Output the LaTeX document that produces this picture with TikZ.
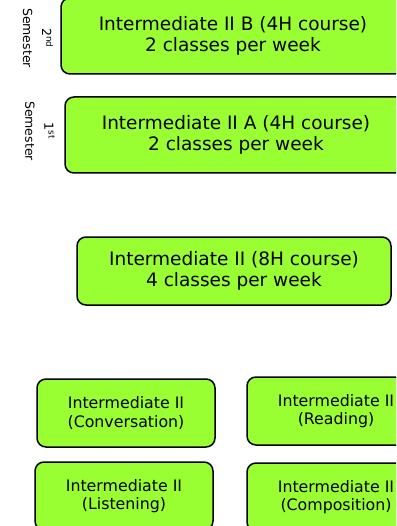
\documentclass[tikz,border=0pt]{standalone}
\usepackage{fontspec}
\setmainfont{DejaVu Sans}
\definecolor{coursegreen}{RGB}{153,255,51}
\tikzset{
	coursebox/.style={shape=rectangle, rounded corners=9pt, draw, line width=1.5pt, fill=coursegreen, align=center, inner sep=0pt},
	bigtext/.style={font=\fontsize{18.5}{21}\selectfont},
	smalltext/.style={font=\fontsize{15.8}{18.5}\selectfont},
	semlabel/.style={rotate=-90, align=center, font=\fontsize{12.5}{19}\selectfont}
}
\begin{document}
\begin{tikzpicture}[x=1pt, y=-1pt]
			\useasboundingbox (0,0) rectangle (396,526);
			\clip (0,0) rectangle (396,526);
			
			% semesters
			\node (s2)[semlabel] at (38,38){2\textsuperscript{nd} \\ Semester};
			\node (s1)[semlabel] at (40,131){1\textsuperscript{st} \\ Semester};
			
			\node (b4)[coursebox, bigtext, minimum width=344pt, minimum height=76pt] 
			at (233,36){
				Intermediate II B (4H course) \\ 2 classes per week
			}; 
			
			\node (a4)[coursebox, bigtext, minimum width=342pt, minimum height=76pt] 
			at (236,135){
				Intermediate II A (4H course) \\ 2 classes per week
			}; 
			
			\node (c8)[coursebox, bigtext, minimum width=314pt, minimum height=68pt] 
			at (234,271){
				Intermediate II (8H course) \\ 4 classes per week
			}; 
			
			% skill classes
			\node (conv)[coursebox, smalltext, minimum width=178pt, minimum height=68pt] 
			at (126,413){
				Intermediate II \\ (Conversation)
			}; 
			
			\node (read)[coursebox, smalltext, minimum width=178pt, minimum height=68pt] 
			at (336,411){
				Intermediate II \\ (Reading)
			}; 
			
			\node (list)[coursebox, smalltext, minimum width=178pt, minimum height=68pt] 
			at (124,496){
				Intermediate II \\ (Listening)
			}; 
			
			\node (comp)[coursebox, smalltext, minimum width=178pt, minimum height=68pt] 
			at (336,497){
				Intermediate II \\ (Composition)
			}; 
		\end{tikzpicture}
\end{document}
